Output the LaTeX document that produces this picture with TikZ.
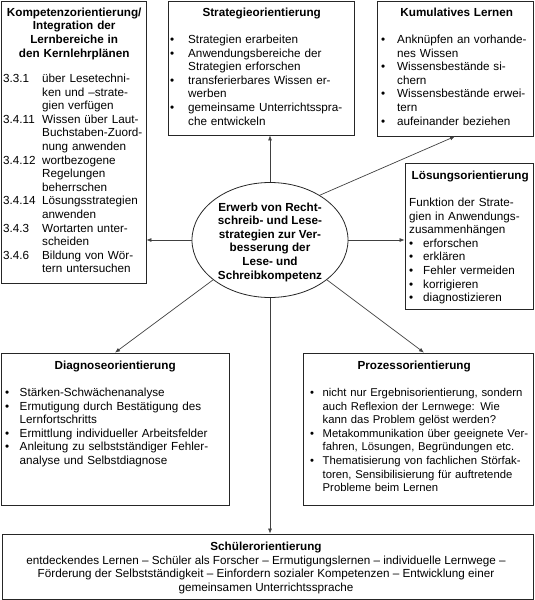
\documentclass[tikz,border=0pt]{standalone}
\usepackage{fontspec}
\setmainfont{Liberation Sans}
\usetikzlibrary{arrows.meta,shapes.geometric,calc}
\newcommand\bitem[2][14pt]{\par\hangindent=#1\hangafter=1\noindent\makebox[#1][l]{\textbullet}#2\par}
\newcommand\kitem[2]{\par\hangindent=39pt\hangafter=1\noindent\makebox[39pt][l]{#1}#2\par}
\newcommand\ttl[2]{\noindent\rule{0pt}{12pt}\makebox[#1][c]{\bfseries #2}\par\vspace{13.6pt}}
\tikzset{
  box/.style={draw=black!85, line width=0.8pt, rectangle, inner sep=0pt},
  txt/.style={anchor=north west, inner sep=0pt, text width=#1,
    font=\fontsize{11.7}{13.6}\selectfont},
  conn/.style={draw=black!75, line width=0.7pt, -{Latex[length=5pt,width=4pt]}}
}
\begin{document}
\begin{tikzpicture}[x=1pt,y=-1pt]
\useasboundingbox (0,0) rectangle (535,600);
% boxes
\node[box, minimum width=145pt, minimum height=282pt] (komp) at (73.5,142) {};
\node[box, minimum width=186pt, minimum height=134pt] (str) at (261,68) {};
\node[box, minimum width=156pt, minimum height=135pt] (kum) at (455,68.5) {};
\node[box, minimum width=128pt, minimum height=146pt] (los) at (469,236) {};
\node[box, minimum width=228pt, minimum height=152pt] (dia) at (115,429) {};
\node[box, minimum width=230pt, minimum height=152pt] (pro) at (418,429) {};
\node[box, minimum width=531pt, minimum height=65pt] (sch) at (267.5,566.5) {};
\node[draw=black!85, line width=0.8pt, ellipse, minimum width=156pt, minimum height=115pt, inner sep=0pt] (ell) at (270,240) {};
% texts
\node[txt=160pt] (kompt) at (3,4) {\raggedright\setlength\parindent{0pt}%
  \noindent\rule{0pt}{12pt}\parbox[t]{142pt}{\centering\bfseries Kompetenzorientierung/\\Integration der\\Lernbereiche in\\den Kernlehrplänen}\par\vspace{13.6pt}
  \kitem{3.3.1}{über Lesetechni-\newline ken und –strate-\newline gien verfügen}
  \kitem{3.4.11}{Wissen über Laut-\newline Buchstaben-Zuord-\newline nung anwenden}
  \kitem{3.4.12}{wortbezogene\newline Regelungen\newline beherrschen}
  \kitem{3.4.14}{Lösungsstrategien\newline anwenden}
  \kitem{3.4.3}{Wortarten unter-\newline scheiden}
  \kitem{3.4.6}{Bildung von Wör-\newline tern untersuchen}};
\node[txt=200pt] (strt) at (170,4) {\raggedright\setlength\parindent{0pt}%
  \ttl{183pt}{Strategieorientierung}
  \bitem[18pt]{Strategien erarbeiten}
  \bitem[18pt]{Anwendungsbereiche der\newline Strategien erforschen}
  \bitem[18pt]{transferierbares Wissen er-\newline werben}
  \bitem[18pt]{gemeinsame Unterrichtsspra-\newline che entwickeln}};
\node[txt=170pt] (kumt) at (381,4) {\raggedright\setlength\parindent{0pt}%
  \ttl{151pt}{Kumulatives Lernen}
  \bitem[16pt]{Anknüpfen an vorhande-\newline nes Wissen}
  \bitem[16pt]{Wissensbestände si-\newline chern}
  \bitem[16pt]{Wissensbestände erwei-\newline tern}
  \bitem[16pt]{aufeinander beziehen}};
\node[txt=140pt] (lost) at (409,167) {\raggedright\setlength\parindent{0pt}%
  \ttl{122pt}{Lösungsorientierung}
  Funktion der Strate-\newline gien in Anwendungs-\newline zusammenhängen\par
  \bitem[14pt]{erforschen}
  \bitem[14pt]{erklären}
  \bitem[14pt]{Fehler vermeiden}
  \bitem[14pt]{korrigieren}
  \bitem[14pt]{diagnostizieren}};
\node[txt=240pt] (diat) at (5,357) {\raggedright\setlength\parindent{0pt}%
  \ttl{220pt}{Diagnoseorientierung}
  \bitem[14.5pt]{Stärken-Schwächenanalyse}
  \bitem[14.5pt]{Ermutigung durch Bestätigung des\newline Lernfortschritts}
  \bitem[14.5pt]{Ermittlung individueller Arbeitsfelder}
  \bitem[14.5pt]{Anleitung zu selbstständiger Fehler-\newline analyse und Selbstdiagnose}};
\node[txt=230pt, font=\fontsize{11.3}{13.6}\selectfont] (prot) at (310,357) {\raggedright\setlength\parindent{0pt}%
  \ttl{208pt}{\fontsize{11.7}{13.6}\selectfont Prozessorientierung}
  \bitem[12.5pt]{nicht nur Ergebnisorientierung, sondern\newline auch Reflexion der Lernwege: Wie\newline kann das Problem gelöst werden?}
  \bitem[12.5pt]{Metakommunikation über geeignete Ver-\newline fahren, Lösungen, Begründungen etc.}
  \bitem[12.5pt]{Thematisierung von fachlichen Störfak-\newline toren, Sensibilisierung für auftretende\newline Probleme beim Lernen}};
\node[inner sep=0pt, align=center, font=\fontsize{11.7}{13.6}\selectfont] (scht) at (266,568)
  {\textbf{Schülerorientierung}\\
   entdeckendes Lernen – Schüler als Forscher – Ermutigungslernen – individuelle Lernwege –\\
   Förderung der Selbstständigkeit – Einfordern sozialer Kompetenzen – Entwicklung einer\\
   gemeinsamen Unterrichtssprache};
\node[inner sep=0pt, align=center, font=\fontsize{11.7}{13.6}\selectfont\bfseries] (ellt) at (270,242)
  {Erwerb von Recht-\\schreib- und Lese-\\strategien zur Ver-\\besserung der\\Lese- und\\Schreibkompetenz};
% connectors
\draw[conn] (ell.north) -- (ell.north |- str.south);
\draw[conn] (ell.42) -- (kum.south);
\draw[conn] (ell.east) -- (ell.east -| los.west);
\draw[conn] (ell.west) -- (ell.west -| komp.east);
\draw[conn] (ell.215) -- (dia.north);
\draw[conn] (ell.-35) -- ([xshift=6pt]pro.north);
\draw[conn] (ell.south) -- (ell.south |- sch.north);
\end{tikzpicture}
\end{document}
